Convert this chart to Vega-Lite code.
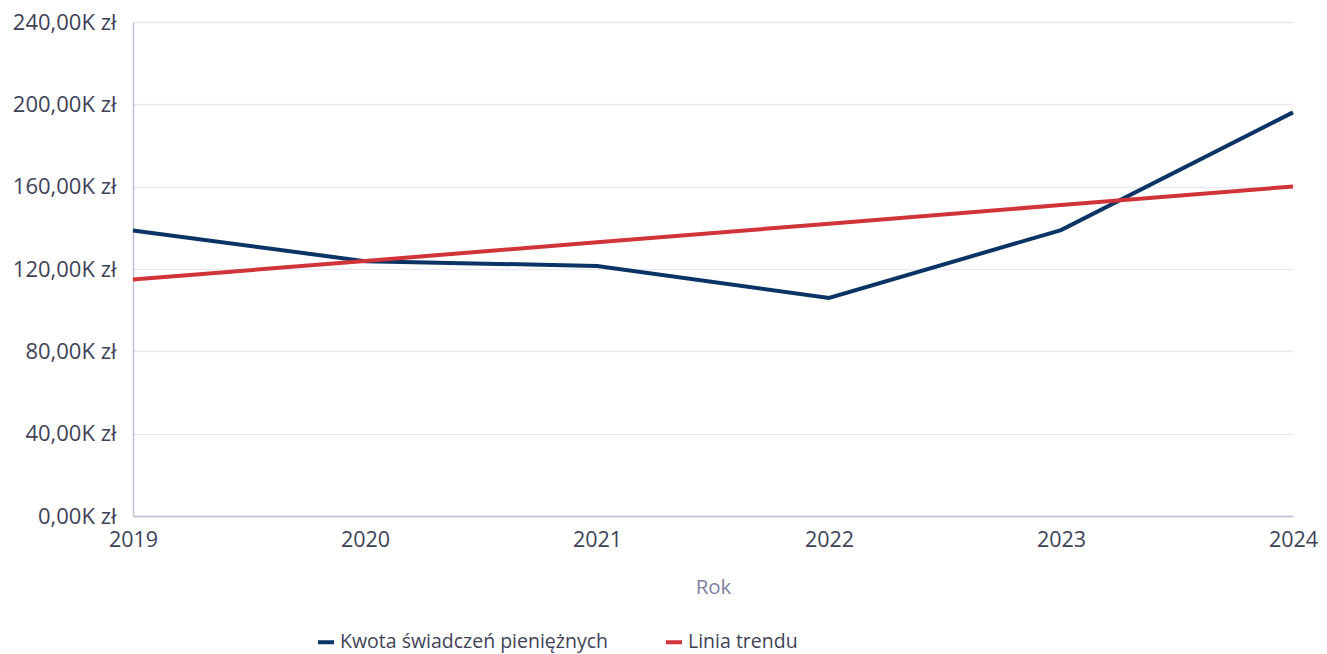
{
  "$schema": "https://vega.github.io/schema/vega-lite/v6.json",
  "width": 1160,
  "height": 494,
  "autosize": {"type": "none"},
  "padding": {"left": 133, "top": 22, "right": 34, "bottom": 138},
  "background": "white",
  "config": {
    "font": "Open Sans",
    "view": {"stroke": null}
  },
  "data": {
    "values": [
      {"rok": 2019, "seria": "Kwota świadczeń pieniężnych", "kwota": 138700},
      {"rok": 2020, "seria": "Kwota świadczeń pieniężnych", "kwota": 123800},
      {"rok": 2021, "seria": "Kwota świadczeń pieniężnych", "kwota": 121500},
      {"rok": 2022, "seria": "Kwota świadczeń pieniężnych", "kwota": 105900},
      {"rok": 2023, "seria": "Kwota świadczeń pieniężnych", "kwota": 138900},
      {"rok": 2024, "seria": "Kwota świadczeń pieniężnych", "kwota": 196100},
      {"rok": 2019, "seria": "Linia trendu", "kwota": 114900},
      {"rok": 2020, "seria": "Linia trendu", "kwota": 123900},
      {"rok": 2021, "seria": "Linia trendu", "kwota": 133000},
      {"rok": 2022, "seria": "Linia trendu", "kwota": 142000},
      {"rok": 2023, "seria": "Linia trendu", "kwota": 151100},
      {"rok": 2024, "seria": "Linia trendu", "kwota": 160100}
    ]
  },
  "mark": {"type": "line", "strokeWidth": 4, "strokeCap": "butt"},
  "encoding": {
    "x": {
      "field": "rok",
      "type": "quantitative",
      "title": "Rok",
      "scale": {"domain": [2019, 2024], "nice": false, "zero": false},
      "axis": {
        "values": [2019, 2020, 2021, 2022, 2023, 2024],
        "format": "d",
        "grid": false,
        "ticks": false,
        "domainColor": "#bfc0d6",
        "domainWidth": 1.5,
        "labelFont": "Open Sans",
        "labelFontSize": 21.5,
        "labelColor": "#404257",
        "labelPadding": 13,
        "labelFlush": false,
        "labelOverlap": false,
        "titleFont": "Open Sans",
        "titleFontSize": 20.5,
        "titleFontWeight": "normal",
        "titleColor": "#7f80a3",
        "titlePadding": 27
      }
    },
    "y": {
      "field": "kwota",
      "type": "quantitative",
      "title": null,
      "scale": {"domain": [0, 240000], "nice": false},
      "axis": {
        "values": [0, 40000, 80000, 120000, 160000, 200000, 240000],
        "labelExpr": "replace(format(datum.value / 1000, '.2f'), '.', ',') + 'K zł'",
        "ticks": false,
        "gridColor": "#e9e9f1",
        "gridWidth": 1.5,
        "domainColor": "#bfc0d6",
        "domainWidth": 1.5,
        "labelFont": "Open Sans",
        "labelFontSize": 22,
        "labelColor": "#404257",
        "labelPadding": 17,
        "labelFlush": false,
        "labelOverlap": false
      }
    },
    "color": {
      "field": "seria",
      "type": "nominal",
      "scale": {
        "domain": ["Kwota świadczeń pieniężnych", "Linia trendu"],
        "range": ["#0a3466", "#d13438"]
      },
      "legend": {
        "title": null,
        "orient": "none",
        "direction": "horizontal",
        "legendX": 183,
        "legendY": 610,
        "symbolType": "stroke",
        "symbolSize": 256,
        "symbolStrokeWidth": 4,
        "labelFont": "Open Sans",
        "labelFontSize": 19.5,
        "labelLimit": 0,
        "labelColor": "#404257",
        "labelOffset": 4,
        "columnPadding": 50
      }
    }
  }
}
